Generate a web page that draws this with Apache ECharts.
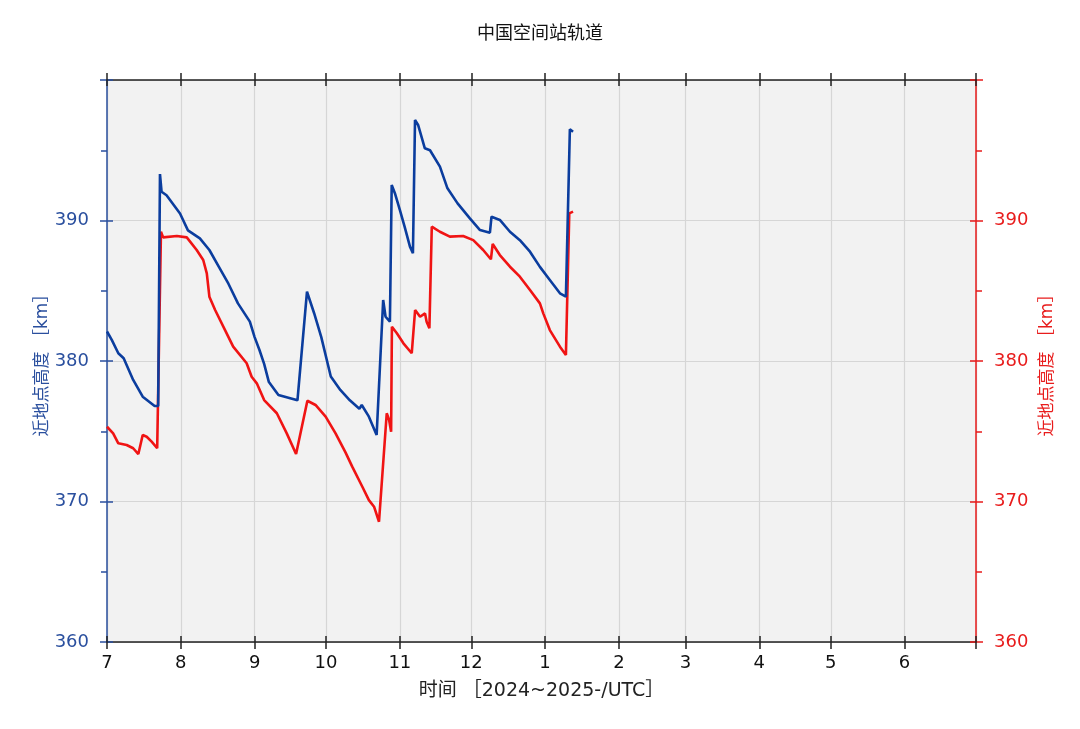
<!DOCTYPE html>
<html><head><meta charset="utf-8">
<script src="https://cdn.jsdelivr.net/npm/echarts@6/dist/echarts.min.js"></script>
<style>html,body{margin:0;padding:0;background:#fff}#c{width:1080px;height:729px}</style>
</head><body><div id="c"></div>
<script>
const titleText = '中国空间站轨道';
const xName = '时间 ［2024~2025-/UTC］';
const yName = '近地点高度 ［km］';
const xMin = '2024-07-01 00:00';
const xMax = '2025-07-01 00:00';

const blueSeries = [
['2024-07-01 00:00',382.1],['2024-07-03 00:00',381.5],['2024-07-05 18:00',380.55],['2024-07-08 00:00',380.2],['2024-07-12 00:00',378.65],['2024-07-16 00:00',377.46],
['2024-07-21 00:00',376.8],['2024-07-22 12:00',376.8],['2024-07-23 06:00',393.3],['2024-07-23 22:00',392.05],
['2024-07-26 00:00',391.8],['2024-07-31 16:00',390.5],['2024-08-04 00:00',389.3],['2024-08-09 00:00',388.73],
['2024-08-13 00:00',387.9],['2024-08-17 00:00',386.7],['2024-08-21 00:00',385.5],['2024-08-25 00:00',384.1],
['2024-08-30 00:00',382.8],['2024-09-01 00:00',381.7],['2024-09-03 00:00',380.8],['2024-09-05 00:00',379.8],
['2024-09-07 00:00',378.5],['2024-09-11 00:00',377.58],['2024-09-19 00:00',377.2],['2024-09-23 00:00',384.93],
['2024-09-26 00:00',383.4],['2024-09-29 00:00',381.7],['2024-10-03 00:00',378.9],['2024-10-07 00:00',377.94],
['2024-10-11 00:00',377.2],['2024-10-15 00:00',376.6],['2024-10-16 00:00',376.87],['2024-10-19 00:00',376.04],
['2024-10-22 06:00',374.73],['2024-10-25 00:00',384.34],['2024-10-26 00:00',383.15],['2024-10-27 20:00',382.8],
['2024-10-28 14:00',392.53],['2024-10-29 22:00',391.94],['2024-11-01 00:00',390.75],['2024-11-03 00:00',389.56],
['2024-11-05 06:00',388.14],['2024-11-06 12:00',387.67],['2024-11-07 09:00',397.15],['2024-11-08 16:00',396.8],
['2024-11-11 12:00',395.14],['2024-11-13 16:00',395.0],['2024-11-17 20:00',393.83],['2024-11-21 00:00',392.29],
['2024-11-25 06:00',391.22],['2024-11-30 10:00',390.15],['2024-12-04 16:00',389.32],['2024-12-08 20:00',389.13],
['2024-12-09 12:00',390.27],['2024-12-13 00:00',390.04],['2024-12-17 06:00',389.2],['2024-12-21 10:00',388.6],
['2024-12-25 16:00',387.78],['2024-12-29 20:00',386.7],['2025-01-03 00:00',385.77],['2025-01-07 06:00',384.82],
['2025-01-09 18:00',384.58],['2025-01-11 10:00',396.49],['2025-01-12 18:00',396.32]
];

const redSeries = [
['2024-07-01 00:00',375.32],['2024-07-03 14:00',374.85],['2024-07-05 18:00',374.14],['2024-07-09 06:00',374.02],
['2024-07-12 00:00',373.79],['2024-07-14 04:00',373.38],['2024-07-16 00:00',374.73],['2024-07-17 16:00',374.61],
['2024-07-19 18:00',374.26],['2024-07-22 02:00',373.79],['2024-07-23 16:00',389.2],['2024-07-24 14:00',388.8],
['2024-07-30 08:00',388.9],['2024-08-03 12:00',388.8],['2024-08-07 16:00',387.9],['2024-08-10 10:00',387.19],
['2024-08-11 22:00',386.24],['2024-08-13 00:00',384.58],['2024-08-15 10:00',383.63],['2024-08-19 14:00',382.2],
['2024-08-23 00:00',381.02],['2024-08-28 16:00',379.84],['2024-08-30 18:00',378.88],['2024-09-01 22:00',378.41],
['2024-09-05 00:00',377.22],['2024-09-10 08:00',376.28],['2024-09-14 12:00',374.85],['2024-09-18 10:00',373.38],
['2024-09-23 04:00',377.17],['2024-09-26 14:00',376.87],['2024-09-30 20:00',376.04],['2024-10-05 00:00',374.85],
['2024-10-09 04:00',373.5],['2024-10-12 00:00',372.48],['2024-10-16 06:00',371.05],['2024-10-19 00:00',370.1],
['2024-10-21 04:00',369.63],['2024-10-23 06:00',368.56],['2024-10-26 12:00',376.28],['2024-10-27 12:00',375.8],
['2024-10-28 08:00',374.97],['2024-10-28 16:00',382.44],['2024-10-30 18:00',381.97],['2024-11-02 12:00',381.26],
['2024-11-06 00:00',380.55],['2024-11-07 10:00',383.63],['2024-11-09 12:00',383.15],['2024-11-11 14:00',383.39],
['2024-11-12 06:00',382.8],['2024-11-13 10:00',382.33],['2024-11-14 10:00',389.56],['2024-11-17 20:00',389.2],
['2024-11-22 00:00',388.85],['2024-11-27 14:00',388.9],['2024-12-01 20:00',388.6],['2024-12-06 00:00',387.9],
['2024-12-09 06:00',387.24],['2024-12-10 00:00',388.33],['2024-12-13 00:00',387.54],['2024-12-17 06:00',386.71],
['2024-12-21 10:00',386.0],['2024-12-25 16:00',385.05],['2024-12-29 20:00',384.1],['2024-12-31 06:00',383.39],
['2025-01-03 00:00',382.2],['2025-01-07 06:00',381.02],['2025-01-09 18:00',380.43],['2025-01-11 04:00',390.51],
['2025-01-12 18:00',390.63]
];

const FONT = '"DejaVu Sans", "Noto Sans CJK SC", sans-serif';
const BLUE_AX = '#2a4f9e';
const RED_AX = '#e81c1c';
const BLUE = '#0b3d9e';
const RED = '#f01414';

function xAx(pos, inside, main) {
  const maxTs = echarts.time.parse(xMax).getTime();
  return {
    type: 'time', position: pos, min: xMin, max: xMax, splitNumber: 12,
    minInterval: 27 * 86400000, maxInterval: 32 * 86400000,
    axisLine: { show: main, lineStyle: { color: '#222', width: 1.5 } },
    axisTick: { show: true, inside: inside, length: inside ? 6 : 7, lineStyle: { color: '#222', width: 1.5 } },
    axisLabel: {
      show: main && pos === 'bottom', color: '#111', fontFamily: FONT, fontSize: 18, margin: 12,
      formatter: function (v) { return v >= maxTs - 1000 ? '' : String(new Date(v).getMonth() + 1); },
      showMinLabel: true, showMaxLabel: false
    },
    splitLine: { show: main && pos === 'bottom', lineStyle: { color: '#d6d6d6', width: 1.2 } },
    name: (main && pos === 'bottom') ? xName : '', nameLocation: 'middle', nameGap: 40,
    nameMoveOverlap: false,
    nameTextStyle: { color: '#222', fontFamily: FONT, fontSize: 19 }
  };
}

function yAx(pos, inside, main, color) {
  return {
    type: 'value', position: pos, min: 360, max: 400, interval: 10,
    axisLine: { show: main, lineStyle: { color: color, width: 1.5 } },
    axisTick: { show: true, inside: inside, length: inside ? 6 : 7, lineStyle: { color: color, width: 1.5 } },
    minorTick: { show: main && !inside, splitNumber: 2, length: 6, lineStyle: { color: color, width: 1.5 } },
    axisLabel: { show: main, color: color, fontFamily: FONT, fontSize: 18, margin: 18, showMaxLabel: false },
    splitLine: { show: main && pos === 'left', lineStyle: { color: '#d6d6d6', width: 1.2 } },
    name: main ? yName : '', nameLocation: 'middle', nameRotate: 90, nameGap: pos === 'left' ? 56 : 63,
    nameMoveOverlap: false,
    nameTextStyle: { color: color, fontFamily: FONT, fontSize: 17 }
  };
}

const chart = echarts.init(document.getElementById('c'), null, { renderer: 'canvas' });
chart.setOption({
  animation: false,
  backgroundColor: '#fff',
  title: { text: titleText, left: 'center', top: 20, textStyle: { fontFamily: FONT, fontSize: 18, fontWeight: 'normal', color: '#111' } },
  grid: { left: 107, right: 104, top: 80, bottom: 87, show: true, backgroundColor: '#f2f2f2', borderWidth: 0 },
  xAxis: [xAx('bottom', false, true), xAx('bottom', true, false), xAx('top', false, true), xAx('top', true, false)],
  yAxis: [yAx('left', false, true, BLUE_AX), yAx('left', true, false, BLUE_AX), yAx('right', false, true, RED_AX), yAx('right', true, false, RED_AX)],
  series: [
    { type: 'line', name: 'blue', xAxisIndex: 0, yAxisIndex: 0, data: blueSeries, showSymbol: false, lineStyle: { color: BLUE, width: 2.6 }, z: 3 },
    { type: 'line', name: 'red', xAxisIndex: 0, yAxisIndex: 2, data: redSeries, showSymbol: false, lineStyle: { color: RED, width: 2.6 }, z: 2 }
  ]
});
</script></body></html>
